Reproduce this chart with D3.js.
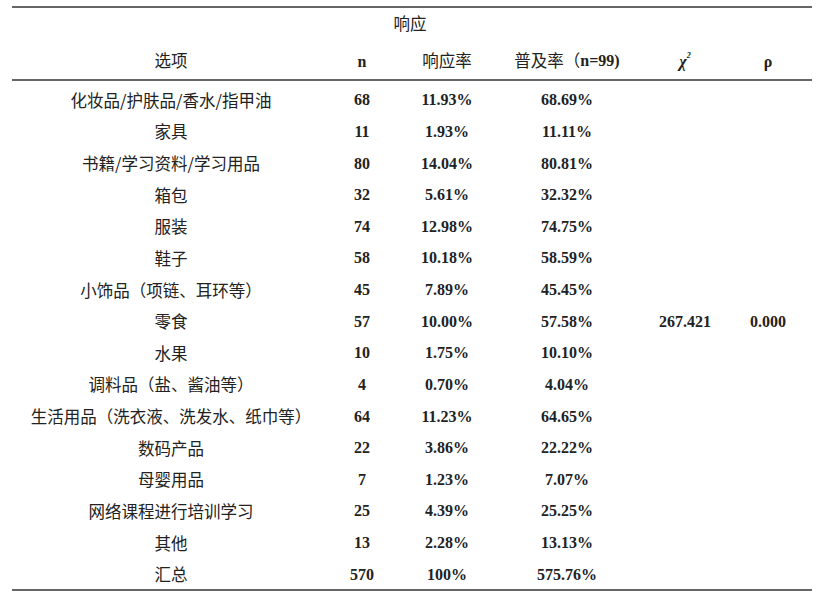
<!DOCTYPE html><html><head><meta charset="utf-8"><script src="https://cdn.jsdelivr.net/npm/d3@7"></script>
<style>body{margin:0;background:#fff}</style></head><body><svg id="c" width="826" height="601"></svg><script>
const items=["化妆品/护肤品/香水/指甲油","家具","书籍/学习资料/学习用品","箱包","服装","鞋子","小饰品（项链、耳环等）","零食","水果","调料品（盐、酱油等）","生活用品（洗衣液、洗发水、纸巾等）","数码产品","母婴用品","网络课程进行培训学习","其他","汇总"];
const nVals=["68","11","80","32","74","58","45","57","10","4","64","22","7","25","13","570"];
const respRate=["11.93%","1.93%","14.04%","5.61%","12.98%","10.18%","7.89%","10.00%","1.75%","0.70%","11.23%","3.86%","1.23%","4.39%","2.28%","100%"];
const popRate=["68.69%","11.11%","80.81%","32.32%","74.75%","58.59%","45.45%","57.58%","10.10%","4.04%","64.65%","22.22%","7.07%","25.25%","13.13%","575.76%"];
const chi="267.421", rho="0.000";
const svg=d3.select("#c");
const y=d3.scaleBand().domain(d3.range(items.length)).range([84,590]);
const cjk="'Noto Sans CJK SC',sans-serif", num="'Liberation Serif',serif";
const cols=[171,362,447,567,685,768];
[7,80,590].forEach(yy=>svg.append("line").attr("x1",12).attr("x2",812).attr("y1",yy).attr("y2",yy).attr("stroke","#333").attr("stroke-width",1.5));
function t(x,yy,s,f,bold){svg.append("text").attr("x",x).attr("y",yy).attr("text-anchor","middle").attr("dominant-baseline","central").attr("font-family",f).attr("font-size",bold?16:16.5).attr("font-weight",bold?"bold":"normal").attr("fill","#222").text(s);}
t(410,23,"响应",cjk);
t(cols[0],60,"选项",cjk);t(cols[1],61,"n",num,1);t(cols[2],60,"响应率",cjk);
svg.append("text").attr("x",cols[3]).attr("y",60).attr("text-anchor","middle").attr("dominant-baseline","central").attr("fill","#222")
 .call(s=>{s.append("tspan").attr("font-family",cjk).attr("font-size",16.5).text("普及率（");s.append("tspan").attr("font-family",num).attr("font-size",16).attr("font-weight","bold").text("n=99)");});
svg.append("text").attr("x",cols[4]).attr("y",61).attr("text-anchor","middle").attr("dominant-baseline","central").attr("font-family",num).attr("font-weight","bold").attr("font-style","italic").attr("font-size",16).attr("fill","#222")
 .call(s=>{s.append("tspan").text("χ");s.append("tspan").attr("font-size",8).attr("dy",-6).text("2");});
t(cols[5],61,"ρ",num,1);
items.forEach((d,i)=>{const yy=y(i)+y.bandwidth()/2;t(cols[0],yy,d,cjk);t(cols[1],yy,nVals[i],num,1);t(cols[2],yy,respRate[i],num,1);t(cols[3],yy,popRate[i],num,1);});
const mid=y(7)+y.bandwidth()/2;t(cols[4],mid,chi,num,1);t(cols[5],mid,rho,num,1);
</script></body></html>
